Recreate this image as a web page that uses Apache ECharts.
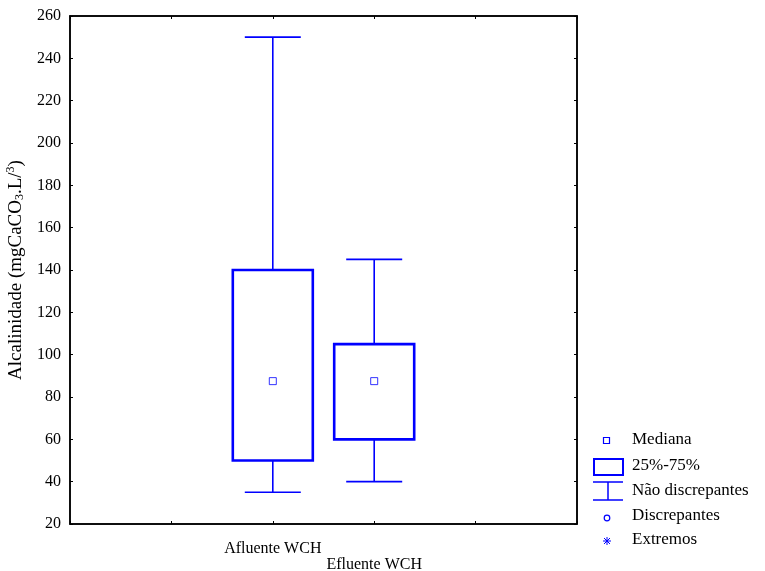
<!DOCTYPE html>
<html>
<head>
<meta charset="UTF-8">
<title>Alcalinidade</title>
<style>
  html, body { margin: 0; padding: 0; background: #fff; }
  #main { width: 765px; height: 571px; }
</style>
</head>
<body>
<div id="main"></div>
<script src="https://cdn.jsdelivr.net/npm/echarts@6/dist/echarts.min.js"></script>
<script>
// grupos (posicao 2 e 3 num eixo de 6 posicoes, como no original)
var categories = ['Afluente WCH', 'Efluente WCH'];
var minVals = [35, 40];
var q1Vals = [50, 60];
var medVals = [87.5, 87.5];
var q3Vals = [140, 105];
var maxVals = [250, 145];
var yTicks = [20, 40, 60, 80, 100, 120, 140, 160, 180, 200, 220, 240, 260];

var axisCats = ['', ''].concat(categories).concat(['', '']);
var offset = 2;
var blue = '#0000ff';
var font = 'Liberation Serif';

var boxData = categories.map(function (c, i) {
  return [i + offset, minVals[i], q1Vals[i], medVals[i], q3Vals[i], maxVals[i]];
});
var medData = categories.map(function (c, i) {
  return [i + offset, medVals[i]];
});

var chart = echarts.init(document.getElementById('main'));

function renderBox(params, api) {
  var x = api.value(0);
  var pMin = api.coord([x, api.value(1)]);
  var pQ1 = api.coord([x, api.value(2)]);
  var pQ3 = api.coord([x, api.value(4)]);
  var pMax = api.coord([x, api.value(5)]);
  var cx = pMin[0];
  var hw = 40, cw = 28;
  var ln = { stroke: blue, lineWidth: 1.6 };
  return {
    type: 'group',
    children: [
      { type: 'line', shape: { x1: cx, y1: pMax[1], x2: cx, y2: pQ3[1] }, style: ln },
      { type: 'line', shape: { x1: cx - cw, y1: pMax[1], x2: cx + cw, y2: pMax[1] }, style: ln },
      { type: 'line', shape: { x1: cx, y1: pQ1[1], x2: cx, y2: pMin[1] }, style: ln },
      { type: 'line', shape: { x1: cx - cw, y1: pMin[1], x2: cx + cw, y2: pMin[1] }, style: ln },
      { type: 'rect', shape: { x: cx - hw, y: pQ3[1], width: hw * 2, height: pQ1[1] - pQ3[1] },
        style: { fill: 'none', stroke: blue, lineWidth: 2.6 } }
    ]
  };
}

// legenda desenhada a mano (icones diferentes)
var lx = 632;
function legText(t, y) {
  return { type: 'text', left: lx, top: y - 10,
    style: { text: t, font: '17px "' + font + '"', fill: '#000' } };
}
var legend = [
  { type: 'rect', shape: { x: 603.5, y: 437.5, width: 6, height: 6 }, style: { fill: '#fff', stroke: blue, lineWidth: 1.2 } },
  legText('Mediana', 441),
  { type: 'rect', shape: { x: 594, y: 459, width: 29, height: 16 }, style: { fill: 'none', stroke: blue, lineWidth: 2 } },
  legText('25%-75%', 467),
  { type: 'line', shape: { x1: 593, y1: 482, x2: 623, y2: 482 }, style: { stroke: blue, lineWidth: 1.5 } },
  { type: 'line', shape: { x1: 608, y1: 482, x2: 608, y2: 500 }, style: { stroke: blue, lineWidth: 1.5 } },
  { type: 'line', shape: { x1: 593, y1: 500, x2: 623, y2: 500 }, style: { stroke: blue, lineWidth: 1.5 } },
  legText('Não discrepantes', 492),
  { type: 'circle', shape: { cx: 607, cy: 518, r: 2.8 }, style: { fill: 'none', stroke: blue, lineWidth: 1.2 } },
  legText('Discrepantes', 517),
  { type: 'line', shape: { x1: 603, y1: 541, x2: 611, y2: 541 }, style: { stroke: blue, lineWidth: 1 } },
  { type: 'line', shape: { x1: 607, y1: 537, x2: 607, y2: 545 }, style: { stroke: blue, lineWidth: 1 } },
  { type: 'line', shape: { x1: 604, y1: 538, x2: 610, y2: 544 }, style: { stroke: blue, lineWidth: 1 } },
  { type: 'line', shape: { x1: 610, y1: 538, x2: 604, y2: 544 }, style: { stroke: blue, lineWidth: 1 } },
  legText('Extremos', 541)
];

chart.setOption({
  animation: false,
  backgroundColor: '#fff',
  textStyle: { fontFamily: font, color: '#000' },
  grid: { left: 70, top: 16, right: 188, bottom: 47, show: true, borderColor: '#000', borderWidth: 1.5,
    outerBoundsMode: 'none', containLabel: false },
  xAxis: [{
    type: 'category',
    data: axisCats,
    boundaryGap: false,
    axisLine: { lineStyle: { color: '#000', width: 1.5 } },
    axisTick: { inside: true, length: 3, lineStyle: { color: '#000' } },
    axisLabel: {
      interval: 0, margin: 17, color: '#000', fontSize: 16, fontFamily: font, lineHeight: 16,
      formatter: function (v, i) { return i === 3 ? '\n' + v : v; }
    },
    splitLine: { show: false }
  }, {
    type: 'category',
    data: axisCats,
    boundaryGap: false,
    position: 'top',
    axisLine: { lineStyle: { color: '#000', width: 1.5 } },
    axisTick: { inside: true, length: 3, lineStyle: { color: '#000' } },
    axisLabel: { show: false }
  }],
  yAxis: [{
    type: 'value',
    min: yTicks[0],
    max: yTicks[yTicks.length - 1],
    interval: 20,
    name: 'Alcalinidade (mgCaCO{sub|3}.L/{sup|3})',
    nameLocation: 'middle',
    nameGap: 39,
    nameTextStyle: {
      fontSize: 19, fontFamily: font, color: '#000',
      rich: {
        sub: { fontSize: 12, fontFamily: font, color: '#000', verticalAlign: 'bottom', padding: [9, 0, 0, 0] },
        sup: { fontSize: 12, fontFamily: font, color: '#000', verticalAlign: 'top', padding: [0, 0, 7, 0] }
      }
    },
    axisLine: { show: true, lineStyle: { color: '#000', width: 1.5 } },
    axisTick: { show: true, inside: true, length: 3, lineStyle: { color: '#000' } },
    axisLabel: { color: '#000', fontSize: 16, fontFamily: font, margin: 9 },
    splitLine: { show: false }
  }, {
    type: 'value',
    min: yTicks[0],
    max: yTicks[yTicks.length - 1],
    interval: 20,
    position: 'right',
    axisLine: { show: true, lineStyle: { color: '#000', width: 1.5 } },
    axisTick: { show: true, inside: true, length: 3, lineStyle: { color: '#000' } },
    axisLabel: { show: false },
    splitLine: { show: false }
  }],
  graphic: legend,
  series: [{
    name: '25%-75%',
    type: 'custom',
    renderItem: renderBox,
    encode: { x: 0, y: [1, 2, 3, 4, 5] },
    data: boxData,
    z: 2
  }, {
    name: 'Mediana',
    type: 'scatter',
    symbol: 'rect',
    symbolSize: 7,
    itemStyle: { color: '#fff', borderColor: blue, borderWidth: 1 },
    data: medData,
    z: 3
  }]
});
</script>
</body>
</html>
